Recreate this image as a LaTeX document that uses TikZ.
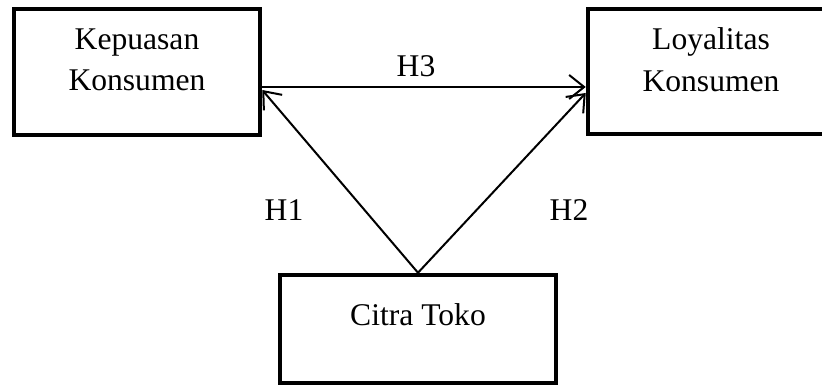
\documentclass[tikz,border=0pt]{standalone}
\usepackage{fontspec}
\setmainfont{Liberation Serif}
\usetikzlibrary{arrows.meta}
\begin{document}
\begin{tikzpicture}[x=1pt,y=1pt,
  box/.style={draw=black, line width=4.5pt, minimum width=#1, inner sep=0pt},
  txt/.style={font=\fontsize{31.6}{41}\selectfont, anchor=base, inner sep=0pt},
  lbl/.style={font=\fontsize{31.6}{41}\selectfont, inner sep=0pt},
  conn/.style={line width=2pt, -{Straight Barb[length=15pt,width=24pt,line width=2pt]}}]
\clip (0,0) rectangle (822,387);
\node[box=246pt, minimum height=126pt] (kep) at (137,315) {};
\node[box=248pt, minimum height=125pt] (loy) at (712,315.5) {};
\node[box=276pt, minimum height=108pt] (cit) at (418,58) {};
\node[txt] (kep1) at (137,337) {Kepuasan};
\node[txt] (kep2) at (137,296) {Konsumen};
\node[txt] (loy1) at (711,337) {Loyalitas};
\node[txt] (loy2) at (711,295) {Konsumen};
\node[txt] (cit1) at (418,61) {Citra Toko};
\draw[conn] ([yshift=-15pt]kep.east) -- ([yshift=-15.5pt]loy.west);
\draw[conn] (cit.north) -- ([yshift=-18pt]kep.east);
\draw[conn] (cit.north) -- ([yshift=-21.5pt]loy.west);
\node[lbl] (h3) at (416,321) {H3};
\node[lbl] (h1) at (284,177) {H1};
\node[lbl] (h2) at (569,177) {H2};
\end{tikzpicture}
\end{document}
